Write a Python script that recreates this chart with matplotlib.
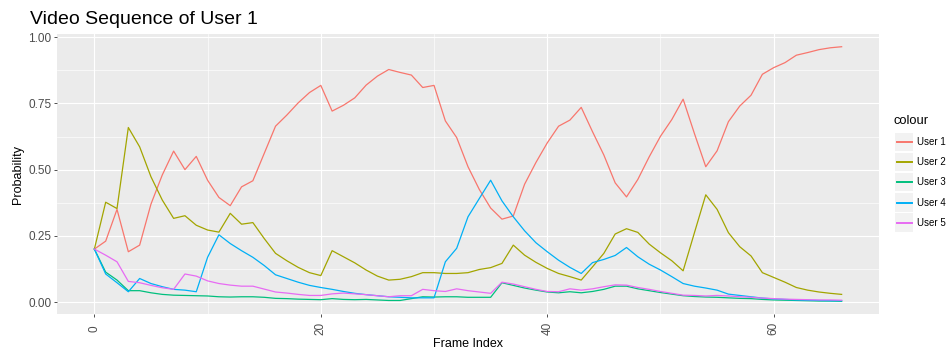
import matplotlib

matplotlib.use("Agg")
import matplotlib.pyplot as plt
from matplotlib.lines import Line2D
from matplotlib.patches import Rectangle


W, H = 949, 353

USERS = ["User 1", "User 2", "User 3", "User 4", "User 5"]
COLORS = ["#F8766D", "#A3A500", "#00BF7D", "#00B0F6", "#E76BF3"]

user1 = [
    0.20, 0.23, 0.35, 0.19, 0.215, 0.37, 0.48, 0.57, 0.50, 0.55, 0.46, 0.395,
    0.364, 0.435, 0.458, 0.561, 0.664, 0.706, 0.752, 0.791, 0.818, 0.721, 0.743, 0.771,
    0.819, 0.853, 0.878, 0.867, 0.857, 0.81, 0.818, 0.684, 0.621, 0.511, 0.425, 0.355,
    0.313, 0.325, 0.445, 0.527, 0.601, 0.664, 0.687, 0.735, 0.643, 0.555, 0.45, 0.397,
    0.463, 0.548, 0.626, 0.689, 0.766, 0.636, 0.511, 0.571, 0.681, 0.74, 0.781, 0.86,
    0.885, 0.904, 0.932, 0.942, 0.953, 0.96, 0.964,
]
user2 = [
    0.20, 0.377, 0.353, 0.659, 0.586, 0.473, 0.385, 0.316, 0.326, 0.29, 0.272, 0.264,
    0.335, 0.294, 0.30, 0.24, 0.184, 0.156, 0.131, 0.111, 0.10, 0.194, 0.171, 0.148,
    0.121, 0.098, 0.083, 0.086, 0.096, 0.111, 0.111, 0.108, 0.108, 0.111, 0.123, 0.13,
    0.146, 0.215, 0.177, 0.15, 0.127, 0.108, 0.096, 0.083, 0.133, 0.184, 0.257, 0.277,
    0.263, 0.219, 0.186, 0.156, 0.118, 0.262, 0.405, 0.35, 0.262, 0.209, 0.174, 0.111,
    0.093, 0.075, 0.055, 0.045, 0.038, 0.033, 0.029,
]
user3 = [
    0.20, 0.113, 0.083, 0.043, 0.043, 0.035, 0.029, 0.026, 0.025, 0.024, 0.023, 0.02,
    0.019, 0.02, 0.02, 0.018, 0.014, 0.013, 0.011, 0.01, 0.009, 0.013, 0.01, 0.009,
    0.01, 0.008, 0.006, 0.006, 0.013, 0.02, 0.019, 0.02, 0.02, 0.018, 0.018, 0.018,
    0.073, 0.063, 0.053, 0.045, 0.038, 0.035, 0.039, 0.035, 0.04, 0.048, 0.06, 0.06,
    0.05, 0.043, 0.036, 0.03, 0.024, 0.021, 0.019, 0.018, 0.016, 0.014, 0.013, 0.01,
    0.008, 0.007, 0.006, 0.005, 0.004, 0.004, 0.003,
]
user4 = [
    0.20, 0.106, 0.073, 0.039, 0.089, 0.07, 0.058, 0.048, 0.045, 0.039, 0.169, 0.254,
    0.221, 0.194, 0.169, 0.138, 0.103, 0.089, 0.075, 0.063, 0.055, 0.048, 0.04, 0.033,
    0.028, 0.024, 0.02, 0.018, 0.016, 0.016, 0.016, 0.152, 0.203, 0.322, 0.391, 0.46,
    0.382, 0.322, 0.269, 0.224, 0.19, 0.158, 0.131, 0.108, 0.149, 0.161, 0.176, 0.206,
    0.171, 0.143, 0.121, 0.096, 0.07, 0.06, 0.053, 0.045, 0.03, 0.025, 0.02, 0.015,
    0.012, 0.01, 0.008, 0.007, 0.006, 0.005, 0.005,
]
user5 = [
    0.20, 0.177, 0.152, 0.078, 0.073, 0.063, 0.054, 0.048, 0.106, 0.098, 0.08, 0.07,
    0.064, 0.06, 0.06, 0.049, 0.038, 0.034, 0.029, 0.025, 0.025, 0.031, 0.034, 0.031,
    0.028, 0.024, 0.02, 0.024, 0.024, 0.048, 0.043, 0.04, 0.05, 0.043, 0.038, 0.033,
    0.075, 0.068, 0.058, 0.048, 0.04, 0.039, 0.05, 0.045, 0.05, 0.058, 0.065, 0.064,
    0.055, 0.048, 0.04, 0.033, 0.026, 0.025, 0.023, 0.025, 0.023, 0.02, 0.018, 0.015,
    0.013, 0.011, 0.01, 0.009, 0.008, 0.008, 0.007,
]

frames = list(range(len(user1)))
x_ticks = [0, 20, 40, 60]
x_minor = [10, 30, 50]
y_ticks = [0.0, 0.25, 0.5, 0.75, 1.0]
y_minor = [0.125, 0.375, 0.625, 0.875]


def fx(px):
    return px / W


def fy(py):
    return 1 - py / H


def draw_legend(fig):
    fig.text(fx(894), fy(121), "colour", fontsize=9.3, color="black",
             ha="left", va="center")
    for i, (name, color) in enumerate(zip(USERS, COLORS)):
        cy = 142 + 20.2 * i
        fig.add_artist(Rectangle((fx(895), fy(cy + 9)), fx(17.5), 18.5 / H,
                                 transform=fig.transFigure, facecolor="#F2F2F2",
                                 edgecolor="none"))
        fig.add_artist(Line2D([fx(897), fx(912)], [fy(cy), fy(cy)],
                              transform=fig.transFigure, color=color, lw=1.4))
        fig.text(fx(917), fy(cy), name, fontsize=7, color="black",
                 ha="left", va="center")


def main():
    plt.rcParams["font.family"] = ["Liberation Sans", "DejaVu Sans"]
    fig = plt.figure(figsize=(W / 100, H / 100), dpi=100)
    ax = fig.add_axes([fx(57), fy(314), fx(879 - 57), (314 - 34) / H])
    ax.set_facecolor("#EBEBEB")

    series = [user1, user2, user3, user4, user5]
    for values, name, color in zip(series, USERS, COLORS):
        ax.plot(frames, values, color=color, lw=0.9, label=name)

    ax.set_xlim(-3.3, 69.3)
    lo = min(min(s) for s in series)
    hi = max(max(s) for s in series)
    pad = (hi - lo) * 0.05
    ax.set_ylim(lo - pad, hi + pad)

    ax.set_xticks(x_ticks)
    ax.set_xticks(x_minor, minor=True)
    ax.set_yticks(y_ticks)
    ax.set_yticks(y_minor, minor=True)
    ax.set_yticklabels([f"{v:.2f}" for v in y_ticks])
    ax.grid(which="major", color="white", lw=0.85)
    ax.grid(which="minor", color="white", lw=0.45)
    ax.set_axisbelow(True)
    for spine in ax.spines.values():
        spine.set_visible(False)

    ax.tick_params(which="major", length=2.5, width=0.6, color="#333333",
                   labelsize=8.5, labelcolor="#4D4D4D")
    ax.tick_params(which="minor", length=0)
    ax.tick_params(axis="y", pad=1.5)
    ax.tick_params(axis="x", pad=8)
    for label in ax.get_xticklabels():
        label.set_rotation(90)
        label.set_rotation_mode("anchor")
        label.set_ha("center")
        label.set_va("center")

    ax.set_xlabel("Frame Index", fontsize=9, labelpad=2)
    ax.set_ylabel("Probability", fontsize=9, labelpad=3)
    fig.text(fx(30), fy(19), "Video Sequence of User 1", fontsize=14,
             ha="left", va="center")

    draw_legend(fig)
    fig.savefig("out.png", dpi=100, facecolor="white")
    plt.close(fig)


if __name__ == "__main__":
    main()
